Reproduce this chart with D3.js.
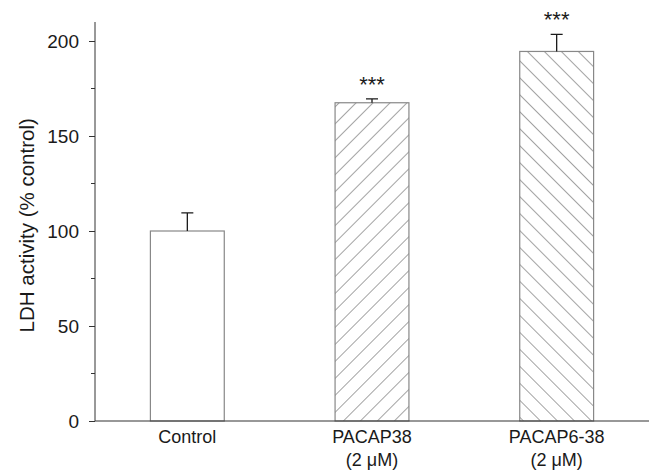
<!DOCTYPE html>
<html>
<head>
<meta charset="utf-8">
<script src="https://cdn.jsdelivr.net/npm/d3@7"></script>
<style>
  body { margin: 0; background: #fff; }
  text { font-family: "Liberation Sans", Arial, sans-serif; fill: #1a1a1a; }
</style>
</head>
<body>
<svg id="chart" width="649" height="471"></svg>
<script>
const groups = ["Control", "PACAP38", "PACAP6-38"];
const groupSub = ["", "(2 \u03bcM)", "(2 \u03bcM)"];
const means = [100, 167.5, 194.5];
const errors = [9.5, 2, 9];
const hatches = ["none", "up", "down"];
const stars = ["", "***", "***"];
const yTicks = [0, 50, 100, 150, 200];
const yMinor = [25, 75, 125, 175];

const width = 649, height = 471;
const margin = { top: 22, right: 0, bottom: 50, left: 95 };

const svg = d3.select("#chart");

const x = d3.scaleBand()
  .domain(groups)
  .range([margin.left, width - margin.right])
  .paddingInner(0.6)
  .paddingOuter(0.3);

const y = d3.scaleLinear()
  .domain([0, 210])
  .range([height - margin.bottom, height - margin.bottom - 210 * 1.9]);

// hatch patterns
const defs = svg.append("defs");
const sp = 12;
[["up", 45], ["down", -45]].forEach(([name, angle]) => {
  defs.append("pattern")
    .attr("id", `hatch-${name}`)
    .attr("patternUnits", "userSpaceOnUse")
    .attr("width", sp).attr("height", sp)
    .attr("patternTransform", `rotate(${angle})`)
    .append("line")
    .attr("x1", 0).attr("y1", 0).attr("x2", 0).attr("y2", sp)
    .attr("stroke", "#333").attr("stroke-width", 0.9);
});

// bars
svg.selectAll(".bar")
  .data(groups)
  .enter()
  .append("rect")
  .attr("x", (d) => x(d))
  .attr("y", (d, i) => y(means[i]))
  .attr("width", x.bandwidth())
  .attr("height", (d, i) => y(0) - y(means[i]))
  .attr("fill", (d, i) => hatches[i] === "none" ? "#fff" : `url(#hatch-${hatches[i]})`)
  .attr("stroke", "#888")
  .attr("stroke-width", 1.2);

// error bars (upper only)
const cx = (d) => x(d) + x.bandwidth() / 2;
svg.selectAll(".err")
  .data(groups)
  .enter()
  .append("path")
  .attr("d", (d, i) => {
    const c = cx(d), top = y(means[i] + errors[i]);
    return `M${c},${y(means[i])}V${top}M${c - 6},${top}H${c + 6}`;
  })
  .attr("fill", "none")
  .attr("stroke", "#1a1a1a")
  .attr("stroke-width", 1.3);

// significance stars
svg.selectAll(".star")
  .data(groups)
  .enter()
  .append("text")
  .attr("x", cx)
  .attr("y", (d, i) => y(means[i] + errors[i]) - 7)
  .attr("text-anchor", "middle")
  .attr("font-size", 22)
  .text((d, i) => stars[i]);

// y axis
const yAxis = svg.append("g")
  .attr("transform", `translate(${margin.left},0)`)
  .call(d3.axisLeft(y).tickValues(yTicks).tickSize(6).tickPadding(10));
yAxis.select(".domain")
  .attr("d", `M0,${y(0)}V${y(210)}`)
  .attr("stroke", "#333");
yAxis.selectAll("line").attr("stroke", "#333");
yAxis.selectAll("text")
  .attr("font-size", 19)
  .attr("font-family", "Liberation Sans, Arial, sans-serif")
  .attr("fill", "#1a1a1a");

// minor ticks
svg.append("g")
  .selectAll("line")
  .data(yMinor)
  .enter()
  .append("line")
  .attr("x1", margin.left - 4)
  .attr("x2", margin.left)
  .attr("y1", (d) => y(d))
  .attr("y2", (d) => y(d))
  .attr("stroke", "#333");

// x axis line
svg.append("line")
  .attr("x1", margin.left)
  .attr("x2", width)
  .attr("y1", y(0))
  .attr("y2", y(0))
  .attr("stroke", "#333")
  .attr("stroke-width", 1.2);

// x labels
const xl = svg.selectAll(".xl")
  .data(groups)
  .enter()
  .append("text")
  .attr("x", cx)
  .attr("y", y(0) + 22)
  .attr("text-anchor", "middle")
  .attr("font-size", 18);
xl.append("tspan").attr("x", cx).text((d) => d);
xl.append("tspan").attr("x", cx).attr("dy", 23).text((d, i) => groupSub[i]);

// y label
svg.append("text")
  .attr("transform", `translate(27,${y(103)}) rotate(-90)`)
  .attr("text-anchor", "middle")
  .attr("dy", "0.35em")
  .attr("font-size", 20.5)
  .text("LDH activity (% control)");
</script>
</body>
</html>
